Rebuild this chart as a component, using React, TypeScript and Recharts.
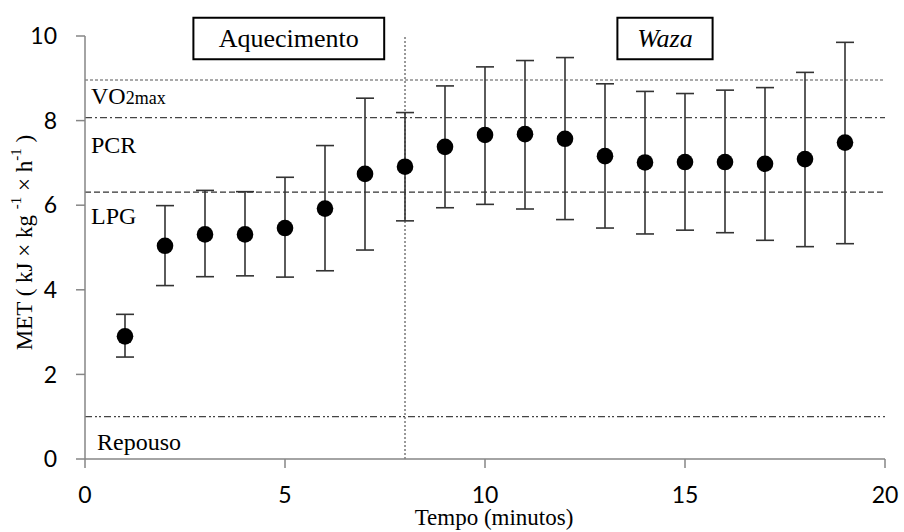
import React from 'react';
import { ScatterChart, Scatter, XAxis, YAxis, ErrorBar, ReferenceLine, ReferenceArea } from 'recharts';

// minute of the bout, mean MET and the ends of each error bar
const minutes = [1, 2, 3, 4, 5, 6, 7, 8, 9, 10, 11, 12, 13, 14, 15, 16, 17, 18, 19];
const met = [2.9, 5.04, 5.31, 5.31, 5.46, 5.92, 6.74, 6.91, 7.38, 7.66, 7.68, 7.57, 7.16, 7.01, 7.02, 7.02, 6.98, 7.09, 7.48];
const upper = [3.42, 5.99, 6.35, 6.32, 6.66, 7.41, 8.53, 8.19, 8.82, 9.27, 9.42, 9.49, 8.87, 8.69, 8.64, 8.72, 8.78, 9.14, 9.85];
const lower = [2.41, 4.1, 4.31, 4.33, 4.3, 4.45, 4.94, 5.63, 5.94, 6.02, 5.91, 5.66, 5.46, 5.32, 5.41, 5.35, 5.17, 5.02, 5.09];

const xTicks = [0, 5, 10, 15, 20];
const yTicks = [0, 2, 4, 6, 8, 10];

// thresholds
const vo2max = 8.96;
const pcr = 8.07;
const lpg = 6.31;
const repouso = 1.0;
const phaseSplit = 8;

const data = minutes.map((m, i) => ({
  minute: m,
  met: met[i],
  err: [met[i] - lower[i], upper[i] - met[i]],
}));

const SERIF = '"Liberation Serif", "Times New Roman", serif';
const SANS = 'Lato, "Open Sans", sans-serif';
const AXIS = '#868686';

function LineLabel(props: any) {
  const { viewBox, dx, dy, children } = props;
  return (
    <text x={viewBox.x + dx} y={viewBox.y + dy} fontFamily={SERIF} fontSize={24} fill="#000">
      {children}
    </text>
  );
}

function BoxLabel(props: any) {
  const { viewBox, text, italic } = props;
  return (
    <text
      x={viewBox.x + viewBox.width / 2}
      y={viewBox.y + viewBox.height / 2}
      textAnchor="middle"
      dominantBaseline="central"
      fontFamily={SERIF}
      fontSize={26}
      fontStyle={italic ? 'italic' : 'normal'}
      fill="#000"
    >
      {text}
    </text>
  );
}

function YTitle(props: any) {
  const { viewBox } = props;
  const cx = viewBox.x - 1;
  const cy = viewBox.y + viewBox.height / 2 - 5;
  return (
    <text
      x={cx}
      y={cy}
      transform={`rotate(-90 ${cx} ${cy})`}
      textAnchor="middle"
      dominantBaseline="central"
      fontFamily={SERIF}
      fontSize={23}
      fill="#000"
    >
      MET ( kJ × kg <tspan fontSize={15} dy={-8}>-1</tspan>
      <tspan dy={8}> × h</tspan>
      <tspan fontSize={15} dy={-8}>-1</tspan>
      <tspan dy={8}> )</tspan>
    </text>
  );
}

function XTitle(props: any) {
  const { viewBox } = props;
  return (
    <text
      x={viewBox.x + viewBox.width / 2 + 9}
      y={viewBox.y + 58}
      textAnchor="middle"
      dominantBaseline="central"
      fontFamily={SERIF}
      fontSize={23}
      fill="#000"
    >
      Tempo (minutos)
    </text>
  );
}

export default function App() {
  return (
    <div style={{ position: 'absolute', left: 0, top: 0, background: '#fff' }}>
      <ScatterChart width={904} height={532} margin={{ top: 36, right: 19, bottom: 33, left: 25 }}>
        <XAxis
          type="number"
          dataKey="minute"
          domain={[0, 20]}
          ticks={xTicks}
          height={40}
          tickSize={9}
          tickMargin={19}
          axisLine={{ stroke: AXIS, strokeWidth: 1.5 }}
          tickLine={{ stroke: AXIS, strokeWidth: 1.5 }}
          tick={{ fill: '#000', fontSize: 23, fontFamily: SANS }}
          label={<XTitle />}
        />
        <YAxis
          type="number"
          dataKey="met"
          domain={[0, 10]}
          ticks={yTicks}
          width={60}
          tickSize={9}
          tickMargin={19}
          axisLine={{ stroke: AXIS, strokeWidth: 1.5 }}
          tickLine={{ stroke: AXIS, strokeWidth: 1.5 }}
          tick={{ fill: '#000', fontSize: 23, fontFamily: SANS }}
          label={<YTitle />}
        />

        <ReferenceLine y={vo2max} stroke="#555" strokeDasharray="3 2" strokeWidth={1.2}
          label={<LineLabel dx={6} dy={24}>VO<tspan fontSize={18}>2max</tspan></LineLabel>} />
        <ReferenceLine y={pcr} stroke="#444" strokeDasharray="7 3 2 3" strokeWidth={1.3}
          label={<LineLabel dx={6} dy={35}>PCR</LineLabel>} />
        <ReferenceLine y={lpg} stroke="#333" strokeDasharray="6 3" strokeWidth={1.3}
          label={<LineLabel dx={6} dy={32}>LPG</LineLabel>} />
        <ReferenceLine y={repouso} stroke="#444" strokeDasharray="7 3 2 2 2 3" strokeWidth={1.2}
          label={<LineLabel dx={12} dy={33}>Repouso</LineLabel>} />
        <ReferenceLine x={phaseSplit} stroke="#333" strokeDasharray="2 2" strokeWidth={1} />

        <ReferenceArea x1={2.71} x2={7.48} y1={9.45} y2={10.43} ifOverflow="visible"
          fill="#fff" fillOpacity={1} stroke="#000" strokeWidth={2}
          label={<BoxLabel text="Aquecimento" />} />
        <ReferenceArea x1={13.31} x2={15.69} y1={9.45} y2={10.43} ifOverflow="visible"
          fill="#fff" fillOpacity={1} stroke="#000" strokeWidth={2}
          label={<BoxLabel text="Waza" italic />} />

        <Scatter
          data={data}
          dataKey="met"
          isAnimationActive={false}
          shape={(p: any) => <circle cx={p.cx} cy={p.cy} r={8.3} fill="#000" />}
        >
          <ErrorBar dataKey="err" direction="y" width={9} stroke="#333" strokeWidth={1.6} isAnimationActive={false} />
        </Scatter>
      </ScatterChart>
    </div>
  );
}
